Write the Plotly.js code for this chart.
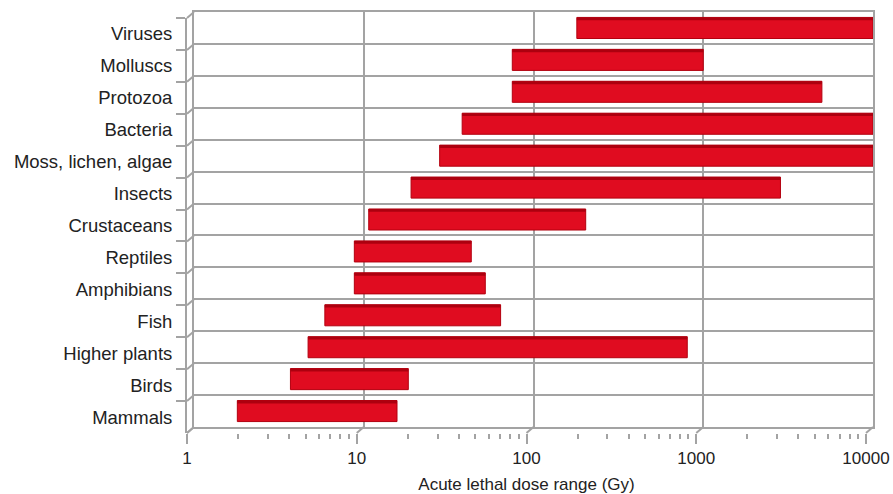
<!DOCTYPE html>
<html><head><meta charset="utf-8">
<script src="https://cdn.plot.ly/plotly-3.0.1.min.js"></script>
<style>html,body{margin:0;padding:0;background:#fff}#chart{width:893px;height:494px}</style>
</head><body><div id="chart"></div>
<script>
const categories = ["Viruses","Molluscs","Protozoa","Bacteria","Moss, lichen, algae","Insects","Crustaceans","Reptiles","Amphibians","Fish","Higher plants","Birds","Mammals"];
const doseMin = [180, 75, 75, 38, 28, 19, 10.7, 8.8, 8.8, 5.9, 4.7, 3.7, 1.8];
const doseMax = [10000, 1000, 5000, 10000, 10000, 2850, 203, 43, 52, 64, 805, 18.3, 15.7];
const tickVals = [1, 10, 100, 1000, 10000];
const tickText = ["1", "10", "100", "1000", "10000"];
const xTitle = "Acute lethal dose range (Gy)";

const W = 893, H = 494;
const back = {x0: 194, x1: 873, y0: 12, y1: 427};
const front = {x0: 187, x1: 866, y0: 18, y1: 433};
const px = v => v / W;
const py = v => 1 - v / H;
const GRID = '#a3a3a3';
const TXT = '#222222';
const FONT = 'Liberation Sans, Arial, sans-serif';
const n = categories.length;
const barW = 0.66;

const minorVals = [];
for (let d = 0; d < 4; d++) for (let k = 2; k <= 9; k++) minorVals.push(k * Math.pow(10, d));

const lengths = doseMax.map((v, i) => v - doseMin[i]);

const traces = [
  {type: 'bar', orientation: 'h', y: categories, x: lengths, base: doseMin,
   xaxis: 'x', yaxis: 'y', width: barW,
   marker: {color: '#e00c20', line: {color: '#b3000f', width: 1}},
   hoverinfo: 'skip', showlegend: false},
  {type: 'bar', orientation: 'h', y: categories, x: lengths, base: doseMin,
   xaxis: 'x', yaxis: 'y', width: 0.09, offset: -barW / 2,
   marker: {color: '#ad000f', line: {width: 0}},
   hoverinfo: 'skip', showlegend: false},
  {type: 'scatter', mode: 'markers', y: categories, x: doseMin,
   xaxis: 'x2', yaxis: 'y2', marker: {opacity: 0},
   hoverinfo: 'skip', showlegend: false}
];

const shapes = [];
for (let i = 0; i <= n; i++) {
  const fy = front.y0 + i * (front.y1 - front.y0) / n;
  const by = back.y0 + i * (back.y1 - back.y0) / n;
  shapes.push({type: 'line', xref: 'paper', yref: 'paper',
    x0: px(front.x0), y0: py(fy), x1: px(back.x0), y1: py(by),
    line: {color: GRID, width: 2}});
}
for (let d = 0; d < tickVals.length; d++) {
  const fx = front.x0 + d * (front.x1 - front.x0) / (tickVals.length - 1);
  const bx = back.x0 + d * (back.x1 - back.x0) / (tickVals.length - 1);
  shapes.push({type: 'line', xref: 'paper', yref: 'paper',
    x0: px(fx), y0: py(front.y1), x1: px(bx), y1: py(back.y1),
    line: {color: GRID, width: 2}});
}

const layout = {
  width: W, height: H,
  margin: {l: 0, r: 0, t: 0, b: 0},
  paper_bgcolor: '#ffffff', plot_bgcolor: 'rgba(0,0,0,0)',
  barmode: 'overlay',
  font: {family: FONT, color: TXT},
  showlegend: false,
  shapes: shapes,
  xaxis: {type: 'log', range: [0, 4], domain: [px(back.x0), px(back.x1)], anchor: 'y',
    tickvals: tickVals, showticklabels: false, ticks: '',
    showgrid: true, gridcolor: GRID, gridwidth: 2,
    showline: true, mirror: true, linecolor: GRID, linewidth: 2, zeroline: false, fixedrange: true},
  yaxis: {type: 'category', categoryorder: 'array', categoryarray: categories,
    range: [n - 0.5, -0.5], domain: [py(back.y1), py(back.y0)], anchor: 'x',
    tickson: 'boundaries', showticklabels: false, ticks: '',
    showgrid: true, gridcolor: GRID, gridwidth: 2,
    showline: true, mirror: true, linecolor: GRID, linewidth: 2, zeroline: false, fixedrange: true},
  xaxis2: {type: 'log', range: [0, 4], domain: [px(front.x0), px(front.x1)], anchor: 'y2',
    tickmode: 'array', tickvals: tickVals, ticktext: tickText,
    ticks: 'outside', ticklen: 10, tickwidth: 2, tickcolor: GRID,
    minor: {tickmode: 'array', tickvals: minorVals, ticks: 'outside', ticklen: 5, tickwidth: 2, tickcolor: GRID, showgrid: false},
    tickfont: {size: 17, color: TXT, family: FONT},
    showgrid: false, showline: false, zeroline: false, fixedrange: true,
    title: {text: xTitle, font: {size: 17, color: TXT, family: FONT}, standoff: 11}},
  yaxis2: {type: 'category', categoryorder: 'array', categoryarray: categories,
    range: [n - 0.5, -0.5], domain: [py(front.y1), py(front.y0)], anchor: 'x2',
    tickson: 'boundaries', ticks: 'outside', ticklen: 9, tickwidth: 2, tickcolor: GRID,
    ticklabelstandoff: 9,
    tickfont: {size: 18.5, color: TXT, family: FONT},
    showgrid: false, showline: true, linecolor: GRID, linewidth: 2, zeroline: false, fixedrange: true}
};

Plotly.newPlot('chart', traces, layout, {staticPlot: true, displayModeBar: false});
</script>
</body></html>
